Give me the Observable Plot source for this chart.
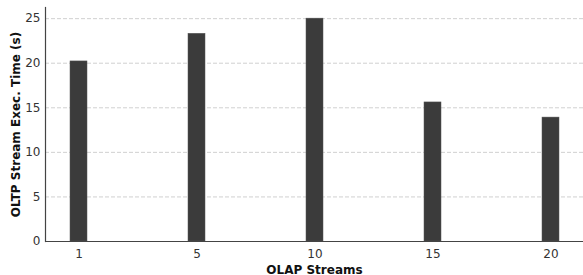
<!DOCTYPE html>
<html>
<head>
<meta charset="utf-8">
<script src="https://cdn.jsdelivr.net/npm/d3@7"></script>
<script src="https://cdn.jsdelivr.net/npm/@observablehq/plot@0.6"></script>
<style>
  html, body { margin: 0; padding: 0; background: #fff; }
  #chart svg { display: block; }
</style>
</head>
<body>
<div id="chart"></div>
<script>
const streams = ["1", "5", "10", "15", "20"];
const execTimes = [20.2, 23.3, 25.0, 15.6, 13.9];
const yTicks = [0, 5, 10, 15, 20, 25];

const data = streams.map((s, i) => ({stream: s, time: execTimes[i]}));

const chart = Plot.plot({
  width: 583,
  height: 275,
  marginLeft: 45,
  marginRight: 0,
  marginTop: 7,
  marginBottom: 34,
  style: {fontFamily: "DejaVu Sans", fontSize: "12px", color: "#333", background: "#fff"},
  x: {domain: streams, paddingInner: 0.86, paddingOuter: 0.2, label: null},
  y: {domain: [0, 26.25], label: null},
  marks: [
    Plot.gridY(yTicks.filter(d => d > 0), {stroke: "#c4c4c4", strokeOpacity: 1, strokeWidth: 0.8, strokeDasharray: "4,2"}),
    Plot.barY(data, {x: "stream", y: "time", fill: "#3b3b3b", stroke: "#555", strokeWidth: 0.5}),
    Plot.axisY(yTicks, {tickSize: 0, tickPadding: 5, label: "OLTP Stream Exec. Time (s)", labelAnchor: "center", labelArrow: "none", labelOffset: 34}),
    Plot.axisX({tickSize: 0, tickPadding: 8, label: "OLAP Streams", labelAnchor: "center", labelArrow: "none", labelOffset: 32}),
    Plot.ruleY([0], {stroke: "#444", strokeWidth: 1.2}),
    Plot.frame({anchor: "left", stroke: "#444", strokeWidth: 1.2})
  ]
});
d3.select(chart).selectAll("[aria-label='y-axis label'] text, [aria-label='x-axis label'] text")
  .style("font-weight", "bold").style("font-size", "12px").style("fill", "#111");
document.getElementById("chart").appendChild(chart);
</script>
</body>
</html>
